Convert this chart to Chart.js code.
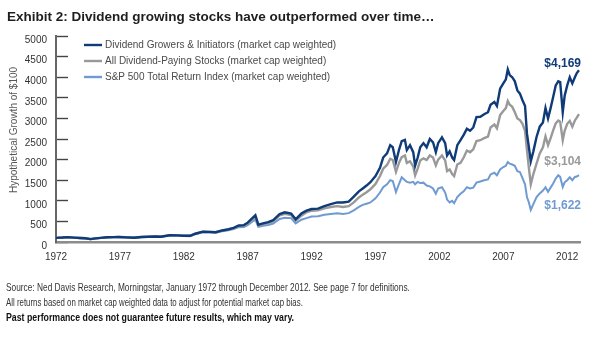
<!DOCTYPE html>
<html>
<head>
<meta charset="utf-8">
<script src="https://cdn.jsdelivr.net/npm/chart.js@4.4.1/dist/chart.umd.min.js"></script>
<style>
  html, body { margin: 0; padding: 0; background: #fff; }
  #wrap { position: relative; width: 600px; height: 343px; overflow: hidden; }
  #c { position: absolute; left: 0; top: 0; }
  .title { position: absolute; left: 7px; top: 9px; font: bold 13.5px "Liberation Sans", Arial, sans-serif; color: #1e1e1e; white-space: nowrap; line-height: 16px; }
  .note { position: absolute; left: 6px; font: 11px "Liberation Sans", Arial, sans-serif; color: #333; white-space: nowrap; line-height: 12px; transform-origin: 0 50%; }
  .note.b { font-weight: bold; color: #111; }
</style>
</head>
<body>
<div id="wrap">
  <canvas id="c" width="600" height="343"></canvas>
  <div class="title">Exhibit 2: Dividend growing stocks have outperformed over time…</div>
  <div class="note" data-w="404" style="top:281px">Source: Ned Davis Research, Morningstar, January 1972 through December 2012. See page 7 for definitions.</div>
  <div class="note" data-w="297" style="top:296px">All returns based on market cap weighted data to adjust for potential market cap bias.</div>
  <div class="note b" data-w="288" style="top:311px">Past performance does not guarantee future results, which may vary.</div>
</div>
<script>
// Footnotes are set in a condensed width
document.querySelectorAll('.note').forEach(el => {
  el.style.transform = 'scaleX(' + (+el.dataset.w / el.offsetWidth) + ')';
});

// Series names
const seriesNames = [
  'Dividend Growers & Initiators (market cap weighted)',
  'All Dividend-Paying Stocks (market cap weighted)',
  'S&P 500 Total Return Index (market cap weighted)'
];

// Observation dates (decimal years)
const dates = [
  1972.0, 1972.5, 1972.9, 1973.4, 1973.9, 1974.3, 1974.7, 1975.1, 1975.5, 1976.0,
  1976.5, 1976.9, 1977.5, 1978.1, 1978.7, 1979.2, 1979.8, 1980.2, 1980.9, 1981.5,
  1982.0, 1982.5, 1982.9, 1983.5, 1984.0, 1984.5, 1985.0, 1985.5, 1985.9, 1986.3,
  1986.7, 1987.0, 1987.3, 1987.6, 1987.83, 1988.2, 1988.6, 1989.0, 1989.5, 1989.9,
  1990.4, 1990.75, 1991.2, 1991.6, 1992.0, 1992.5, 1993.0, 1993.5, 1994.0, 1994.45,
  1994.9, 1995.3, 1995.7, 1996.0, 1996.3, 1996.6, 1997.0, 1997.35, 1997.6, 1997.9,
  1998.15, 1998.35, 1998.6, 1998.85, 1999.05, 1999.3, 1999.45, 1999.7, 1999.95, 2000.1,
  2000.3, 2000.5, 2000.75, 2001.0, 2001.25, 2001.5, 2001.72, 2001.9, 2002.2, 2002.45,
  2002.6, 2002.8, 2003.0, 2003.15, 2003.4, 2003.65, 2003.9, 2004.15, 2004.4, 2004.65,
  2004.9, 2005.2, 2005.5, 2005.8, 2006.0, 2006.3, 2006.5, 2006.75, 2007.0, 2007.2,
  2007.35, 2007.5, 2007.7, 2007.9, 2008.1, 2008.3, 2008.5, 2008.7, 2008.85, 2009.0,
  2009.15, 2009.35, 2009.6, 2009.85, 2010.1, 2010.3, 2010.5, 2010.7, 2010.9, 2011.1,
  2011.3, 2011.45, 2011.65, 2011.8, 2012.0, 2012.2, 2012.4, 2012.6, 2012.75, 2012.92
];

// Growth of $100 — Dividend Growers & Initiators
const growers = [
  100, 108, 118, 106, 96, 90, 70, 88, 100, 114,
  118, 122, 112, 104, 122, 126, 134, 128, 165, 160,
  152, 150, 200, 252, 245, 238, 280, 310, 345, 400,
  410, 470, 560, 650, 420, 450, 480, 530, 680, 720,
  690, 550, 690, 760, 800, 810, 870, 920, 960, 960,
  980, 1100, 1230, 1300, 1370, 1450, 1600, 1800, 2050, 2150,
  2350, 2300, 1940, 2250, 2450, 2480, 2230, 2350, 2180, 1850,
  2050, 2300, 2400, 2300, 2500, 2420, 2180, 2400, 2540, 2400,
  2100, 2200, 2050, 1990, 2350, 2470, 2600, 2750, 2700, 2780,
  3030, 3040, 3100, 3150, 3330, 3400, 3300, 3720, 3850, 3950,
  4190, 4050, 4000, 3900, 3680, 3600, 3440, 3300, 2630, 2300,
  1960, 2200, 2550, 2800, 2900, 3250, 3000, 3250, 3520, 3800,
  3900, 3880, 3150, 3550, 3800, 4000, 3850, 4000, 4100, 4169
];

// Growth of $100 — All Dividend-Paying Stocks
const allPayers = [
  100, 108, 116, 106, 96, 90, 72, 88, 100, 114,
  118, 124, 114, 108, 124, 128, 136, 130, 162, 160,
  154, 152, 200, 248, 242, 238, 275, 300, 335, 385,
  395, 450, 530, 610, 400, 430, 460, 505, 645, 685,
  655, 515, 640, 720, 760, 770, 815, 850, 870, 850,
  870, 960, 1080, 1150, 1210, 1280, 1410, 1600, 1780, 1870,
  2020, 1990, 1700, 1930, 2060, 2100, 1920, 1960, 1830, 1620,
  1780, 1980, 2030, 1990, 2100, 2050, 1860, 2000, 2100, 1980,
  1720, 1760, 1650, 1600, 1880, 1920, 2050, 2220, 2180, 2250,
  2450, 2470, 2520, 2560, 2780, 2850, 2760, 3080, 3180, 3250,
  3420, 3330, 3280, 3150, 3000, 2960, 2870, 2700, 2230, 1800,
  1400, 1650, 1900, 2150, 2300, 2560, 2350, 2520, 2710, 2880,
  2950, 2920, 2470, 2700, 2870, 2940, 2800, 2950, 3020, 3104
];

// Growth of $100 — S&P 500 Total Return Index
const sp500 = [
  100, 106, 118, 104, 94, 86, 66, 84, 96, 110,
  114, 118, 108, 100, 118, 122, 132, 126, 160, 152,
  146, 142, 190, 236, 230, 226, 258, 285, 312, 360,
  365, 410, 480, 545, 370, 395, 415, 450, 560, 590,
  580, 450, 540, 580, 620, 625, 660, 680, 700, 680,
  700, 770, 850, 900, 930, 960, 1060, 1200, 1330, 1400,
  1500, 1480, 1210, 1420, 1570, 1500, 1460, 1440, 1460, 1400,
  1460, 1430, 1440, 1370, 1350, 1300, 1170, 1300, 1330, 1200,
  1030, 960, 1000, 940, 1090, 1170, 1230, 1330, 1300, 1320,
  1440, 1470, 1500, 1520, 1640, 1680, 1620, 1760, 1820, 1850,
  1940, 1900, 1880, 1850, 1720, 1700, 1550, 1400, 1090, 960,
  780, 920, 1090, 1180, 1250, 1330, 1220, 1320, 1420, 1540,
  1620, 1580, 1335, 1450, 1500, 1570, 1500, 1580, 1590, 1622
];

// Axis tick labels
const yearTicks = [1972, 1977, 1982, 1987, 1992, 1997, 2002, 2007, 2012];
const valueTicks = [0, 500, 1000, 1500, 2000, 2500, 3000, 3500, 4000, 4500, 5000];

const colors = ['#0f3b78', '#999999', '#6f9ad2'];
const widths = [2.4, 2.4, 2.0];
const endLabelY = [64, 162, 206];

const FONT = '"Liberation Sans", Arial, sans-serif';

const toPoints = vals => dates.map((d, i) => ({ x: d, y: vals[i] }));

// Legend lines, y-axis title and end-of-line value labels
const annotations = {
  id: 'annotations',
  afterDraw(chart) {
    const ctx = chart.ctx;
    ctx.save();
    // legend
    ctx.font = '10px ' + FONT;
    ctx.textBaseline = 'middle';
    chart.data.datasets.forEach((ds, i) => {
      const y = 45 + i * 16;
      ctx.strokeStyle = ds.borderColor;
      ctx.lineWidth = 2.4;
      ctx.beginPath();
      ctx.moveTo(84, y);
      ctx.lineTo(102, y);
      ctx.stroke();
      ctx.fillStyle = '#4a4a4a';
      ctx.textAlign = 'left';
      ctx.fillText(ds.label, 105, y + 0.5);
    });
    // end labels from last values
    ctx.font = 'bold 12px ' + FONT;
    ctx.textAlign = 'right';
    chart.data.datasets.forEach((ds, i) => {
      const last = ds.data[ds.data.length - 1].y;
      ctx.fillStyle = ds.borderColor;
      ctx.fillText('$' + last.toLocaleString('en-US'), 581, endLabelY[i]);
    });
    // y-axis title
    ctx.font = '10px ' + FONT;
    ctx.fillStyle = '#555';
    ctx.textAlign = 'center';
    ctx.translate(14, 130);
    ctx.rotate(-Math.PI / 2);
    ctx.fillText('Hypothetical Growth of $100', 0, 0);
    ctx.restore();
  }
};

new Chart(document.getElementById('c'), {
  type: 'line',
  data: {
    datasets: [growers, allPayers, sp500].map((vals, i) => ({
      label: seriesNames[i],
      data: toPoints(vals),
      borderColor: colors[i],
      backgroundColor: colors[i],
      borderWidth: widths[i],
      pointRadius: 0,
      tension: 0,
      fill: false
    }))
  },
  options: {
    responsive: false,
    devicePixelRatio: 1,
    animation: false,
    layout: { padding: { top: 36, right: 20, left: 0, bottom: 0 } },
    plugins: { legend: { display: false }, tooltip: { enabled: false } },
    scales: {
      x: {
        type: 'linear',
        min: 1972,
        max: 2013,
        afterBuildTicks: s => { s.ticks = yearTicks.map(v => ({ value: v })); },
        afterFit: s => { s.height = 101; },
        grid: { display: false, drawTicks: false },
        border: { display: true, color: '#8c8c8c', width: 2.5 },
        ticks: {
          padding: 9,
          color: '#333',
          font: { family: FONT, size: 10 },
          maxRotation: 0,
          autoSkip: false,
          callback: v => String(v)
        }
      },
      y: {
        min: 0,
        max: 5000,
        afterBuildTicks: s => { s.ticks = valueTicks.map(v => ({ value: v })); },
        afterFit: s => { s.width = 56; },
        grid: {
          drawOnChartArea: false,
          drawTicks: true,
          tickLength: -12,
          tickColor: '#444',
          tickWidth: 1.4
        },
        border: { display: true, color: '#666', width: 2 },
        ticks: {
          padding: 21,
          labelOffset: 4,
          color: '#333',
          font: { family: FONT, size: 10 },
          callback: v => String(v)
        }
      }
    }
  },
  plugins: [annotations]
});
</script>
</body>
</html>
